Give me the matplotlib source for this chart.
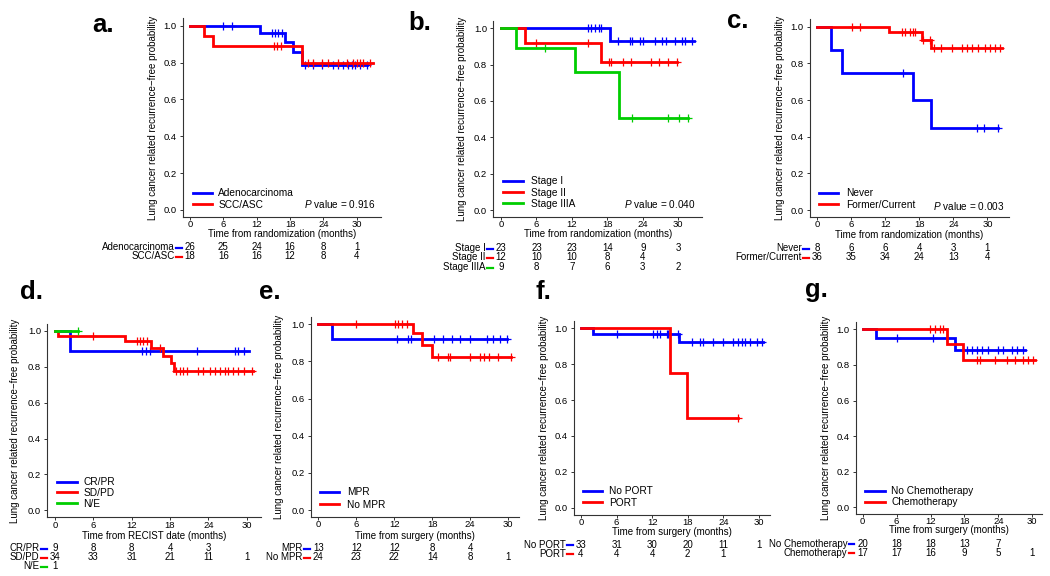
import matplotlib
matplotlib.use('Agg')
import matplotlib.pyplot as plt
import matplotlib.transforms as mtransforms
from matplotlib.lines import Line2D
import numpy as np

plt.rcParams['font.family'] = ['Liberation Sans', 'DejaVu Sans']
plt.rcParams['mathtext.fontset'] = 'custom'
plt.rcParams['mathtext.it'] = 'Liberation Sans:italic'
plt.rcParams['mathtext.rm'] = 'Liberation Sans'

# ---------------- DATA ----------------
risk_times = [0, 6, 12, 18, 24, 30]
y_ticks = [0.0, 0.2, 0.4, 0.6, 0.8, 1.0]
ylabel_text = 'Lung cancer related recurrence\u2212free probability'

# a. histology
a_groups = ['Adenocarcinoma', 'SCC/ASC']
a_event_t = [[12.6, 17.1, 18.5, 20.1], [2.5, 4.2, 20.1]]
a_surv = [[0.962, 0.913, 0.856, 0.787], [0.944, 0.889, 0.800]]
a_end = [31.8, 32.9]
a_cens = [[6.0, 7.5, 14.7, 15.3, 15.9, 16.5, 20.7, 22.2, 23.7, 25.8, 26.7, 27.6, 28.5, 29.1, 29.7, 30.6, 31.8],
          [15.1, 15.7, 16.3, 21.3, 22.2, 23.7, 24.9, 26.7, 28.2, 29.4, 30.0, 30.6, 31.2, 32.4]]
a_risk = [[26, 25, 24, 16, 8, 1], [18, 16, 16, 12, 8, 4]]
a_pvalue = '0.916'
a_xlabel = 'Time from randomization (months)'

# b. stage
b_groups = ['Stage I', 'Stage II', 'Stage IIIA']
b_event_t = [[18.4], [4.1, 16.9], [2.5, 12.5, 20.0]]
b_surv = [[0.929], [0.917, 0.815], [0.889, 0.762, 0.508]]
b_end = [32.7, 29.7, 31.7]
b_cens = [[14.8, 15.3, 15.9, 16.5, 17.0, 19.8, 21.8, 22.1, 23.5, 24.0, 26.1, 27.2, 28.0, 29.4, 30.6, 31.2, 32.3],
          [6.0, 14.8, 18.3, 18.6, 20.7, 22.0, 25.4, 26.8, 28.3, 29.7],
          [7.5, 22.1, 28.2, 30.2, 31.7]]
b_risk = [[23, 23, 23, 14, 9, 3], [12, 10, 10, 8, 4, None], [9, 8, 7, 6, 3, 2]]
b_pvalue = '0.040'
b_xlabel = 'Time from randomization (months)'

# c. smoking
c_groups = ['Never', 'Former/Current']
c_event_t = [[2.5, 4.3, 16.9, 20.0], [12.7, 18.4, 20.0]]
c_surv = [[0.875, 0.75, 0.60, 0.45], [0.972, 0.930, 0.885]]
c_end = [31.9, 32.5]
c_cens = [[15.1, 28.1, 29.4, 31.9],
          [6.1, 7.5, 14.9, 15.5, 16.3, 16.8, 17.2, 18.7, 19.9, 20.5, 21.9, 23.7, 25.5, 26.4, 27.2, 28.4, 29.6, 30.5, 31.3, 32.2]]
c_risk = [[8, 6, 6, 4, 3, 1], [36, 35, 34, 24, 13, 4]]
c_pvalue = '0.003'
c_xlabel = 'Time from randomization (months)'

# d. RECIST response
d_groups = ['CR/PR', 'SD/PD', 'N/E']
d_event_t = [[2.35], [0.5, 10.9, 15.1, 16.9, 18.1, 18.6], []]
d_surv = [[0.889], [0.971, 0.943, 0.903, 0.863, 0.820, 0.777], []]
d_end = [30.3, 31.0, 3.6]
d_cens = [[13.6, 14.2, 14.8, 22.2, 28.1, 28.7, 29.6],
          [6.0, 12.8, 13.3, 13.8, 14.4, 16.4, 19.0, 19.5, 20.0, 20.6, 22.4, 23.2, 24.3, 25.0, 25.8, 26.6, 27.1, 27.9,
           28.7, 29.5, 30.8],
          [3.6]]
d_risk = [[9, 8, 8, 4, 3, None], [34, 33, 31, 21, 11, 1], [1, None, None, None, None, None]]
d_xlabel = 'Time from RECIST date (months)'

# e. pathological response
e_groups = ['MPR', 'No MPR']
e_event_t = [[2.1], [15.0, 16.4, 17.9]]
e_surv = [[0.923], [0.955, 0.890, 0.826]]
e_end = [29.8, 30.5]
e_cens = [[12.4, 14.2, 14.7, 18.2, 19.7, 21.1, 22.4, 24.0, 26.6, 27.6, 28.7, 29.8],
          [5.9, 12.1, 12.6, 13.2, 14.0, 18.9, 20.5, 20.8, 24.0, 25.5, 26.1, 26.9, 28.4, 30.5]]
e_risk = [[13, 12, 12, 8, 4, None], [24, 23, 22, 14, 8, 1]]
e_xlabel = 'Time from surgery (months)'

# f. PORT
f_groups = ['No PORT', 'PORT']
f_event_t = [[2.1, 16.5], [15.0, 17.9]]
f_surv = [[0.970, 0.922], [0.75, 0.50]]
f_end = [30.7, 26.5]
f_cens = [[6.0, 12.2, 12.8, 13.3, 14.5, 14.7, 16.4, 18.7, 20.1, 20.6, 22.3, 24.0, 25.7, 26.5, 27.1, 27.7, 28.5,
           29.6, 30.5],
          [26.5]]
f_risk = [[33, 31, 30, 20, 11, 1], [4, 4, 4, 2, 1, None]]
f_xlabel = 'Time from surgery (months)'

# g. adjuvant chemotherapy
g_groups = ['No Chemotherapy', 'Chemotherapy']
g_event_t = [[2.3, 16.3], [15.0, 17.8]]
g_surv = [[0.950, 0.884], [0.917, 0.825]]
g_end = [28.7, 30.5]
g_cens = [[6.0, 12.5, 14.9, 18.4, 19.3, 20.2, 21.1, 22.2, 24.0, 24.9, 26.4, 27.3, 28.4],
          [11.9, 12.8, 13.7, 14.3, 20.2, 20.8, 23.5, 25.5, 27.0, 28.4, 29.3, 30.2]]
g_risk = [[20, 18, 18, 13, 7, None], [17, 17, 16, 9, 5, 1]]
g_xlabel = 'Time from surgery (months)'

# ---------------- FIGURE ----------------
W, H = 1050, 576
fig = plt.figure(figsize=(W / 100, H / 100), dpi=100)
PIX = mtransforms.Affine2D().scale(1.0 / W, -1.0 / H).translate(0, 1) + fig.transFigure

BLUE, RED, GREEN = '#0000FF', '#FF0000', '#00CD00'
AXC = '#333333'
FS = 7.0      # labels
FST = 6.8     # ticks
FSR = 7.0     # risk table


def surv_at(t, ev_t, ev_s):
    i = int(np.searchsorted(ev_t, t, side='right'))
    return 1.0 if i == 0 else ev_s[i - 1]


def panel(letter, letter_xy, geom, groups, colors, ev_t, ev_s, ends, cens, risk, xlabel,
          xlabel_y, ylabel_x, leg, risk_rows, pval=None, pval_xy=None):
    x0, ppm, y1, y0, T = geom
    xl = (-0.04 * T, 1.04 * T)
    left = x0 + xl[0] * ppm
    right = x0 + xl[1] * ppm
    dy = y0 - y1
    top = y1 - 0.04 * dy
    bottom = y0 + 0.04 * dy
    ax = fig.add_axes([left / W, 1 - bottom / H, (right - left) / W, (bottom - top) / H])
    ax.set_xlim(*xl)
    ax.set_ylim(-0.04, 1.04)
    ax.patch.set_alpha(0)
    for s in ['top', 'right']:
        ax.spines[s].set_visible(False)
    for s in ['left', 'bottom']:
        ax.spines[s].set_linewidth(0.8)
        ax.spines[s].set_color(AXC)
    ax.set_xticks(risk_times)
    ax.set_xticklabels([str(t) for t in risk_times])
    ax.set_yticks(y_ticks)
    ax.set_yticklabels(['%.1f' % v for v in y_ticks])
    ax.tick_params(axis='x', length=2.2, width=0.7, pad=0.0, labelsize=FST, color=AXC)
    ax.tick_params(axis='y', length=2.4, width=0.7, pad=2.0, labelsize=FST, color=AXC)

    for k in range(len(groups)):
        last = ev_s[k][-1] if ev_s[k] else 1.0
        xs = [0.0] + list(ev_t[k]) + [ends[k]]
        ys = [1.0] + list(ev_s[k]) + [last]
        ax.step(xs, ys, where='post', color=colors[k], lw=2.0, solid_joinstyle='miter', zorder=3 + k)
        cy = [surv_at(c, ev_t[k], ev_s[k]) for c in cens[k]]
        ax.plot(cens[k], cy, ls='none', marker='+', ms=5.5, mew=0.9, color=colors[k], zorder=3 + k)

    # legend
    lx0, lx1, tx, rows = leg
    for k, g in enumerate(groups):
        fig.add_artist(Line2D([lx0, lx1], [rows[k], rows[k]], color=colors[k], lw=2.0, transform=PIX))
        fig.text(tx, rows[k] + 3.5, g, transform=PIX, fontsize=7.3, ha='left', va='baseline')

    # p value
    if pval is not None:
        fig.text(pval_xy[0], pval_xy[1] + 3.5, r'$P$ value = ' + pval, transform=PIX, fontsize=7.2,
                 ha='right', va='baseline')

    # axis labels
    cx = (left + right) / 2
    fig.text(cx, xlabel_y + 4.0, xlabel, transform=PIX, fontsize=FS, ha='center', va='baseline')
    fig.text(ylabel_x, (top + bottom) / 2, ylabel_text, transform=PIX, fontsize=FS, rotation=90,
             ha='center', va='center')

    # letter
    fig.text(letter_xy[0], letter_xy[1], letter, transform=PIX, fontsize=18.5, fontweight='bold',
             ha='left', va='baseline')

    # risk table
    btr = mtransforms.blended_transform_factory(ax.transData, PIX)
    for k, g in enumerate(groups):
        ry = risk_rows[k]
        fig.text(x0 - 15.5, ry + 3.3, g, transform=PIX, fontsize=FSR, ha='right', va='baseline')
        fig.add_artist(Line2D([x0 - 14, x0 - 8.5], [ry + 1.0, ry + 1.0], color=colors[k], lw=1.6,
                              transform=PIX))
        for t, n in zip(risk_times, risk[k]):
            if n is None:
                continue
            ax.text(t, ry + 3.3, str(n), transform=btr, fontsize=FSR, ha='center', va='baseline',
                    clip_on=False)
    return ax


panel('a.', (92, 32), (190, 5.56, 25.7, 210, 33.0), a_groups, [BLUE, RED], a_event_t, a_surv, a_end,
      a_cens, a_risk, a_xlabel, 233.3, 153, (192.7, 211.7, 218.3, [192.7, 204]), [246.5, 255.5],
      a_pvalue, (375, 204.5))
panel('b.', (408, 30), (501, 5.91, 28.3, 210, 32.7), b_groups, [BLUE, RED, GREEN], b_event_t, b_surv,
      b_end, b_cens, b_risk, b_xlabel, 233.3, 462, (503.3, 522.7, 530.7, [180.7, 192.3, 203.3]),
      [248, 257, 267], b_pvalue, (695, 205))
panel('c.', (727, 28), (817.3, 5.67, 26.7, 210, 32.5), c_groups, [BLUE, RED], c_event_t, c_surv, c_end,
      c_cens, c_risk, c_xlabel, 234.3, 779.7, (819.3, 838.3, 846, [192.7, 204]), [247.7, 256.7],
      c_pvalue, (1004, 206))
panel('d.', (20, 299), (55, 6.39, 331, 510.3, 31.0), d_groups, [BLUE, RED, GREEN], d_event_t, d_surv,
      d_end, d_cens, d_risk, d_xlabel, 535, 15, (57.3, 76.7, 83.3, [481.7, 492.3, 503.3]),
      [547.7, 556.7, 566])
panel('e.', (259, 299), (318.3, 6.33, 324.3, 510, 30.5), e_groups, [BLUE, RED], e_event_t, e_surv, e_end,
      e_cens, e_risk, e_xlabel, 535, 279, (320, 339.3, 346.7, [491.7, 504]), [547.7, 556.7])
panel('f.', (535, 299), (581, 5.93, 328.3, 507.7, 30.7), f_groups, [BLUE, RED], f_event_t, f_surv, f_end,
      f_cens, f_risk, f_xlabel, 530.7, 543.7, (583.3, 601.7, 609, [491, 502.3]), [544.3, 553.3])
panel('g.', (805, 297), (862.7, 5.65, 329.3, 507.3, 30.5), g_groups, [BLUE, RED], g_event_t, g_surv, g_end,
      g_cens, g_risk, g_xlabel, 529.3, 826, (865, 885, 891, [491, 501.7]), [543.3, 552.3])

fig.savefig('out.png', dpi=100, facecolor='white')
